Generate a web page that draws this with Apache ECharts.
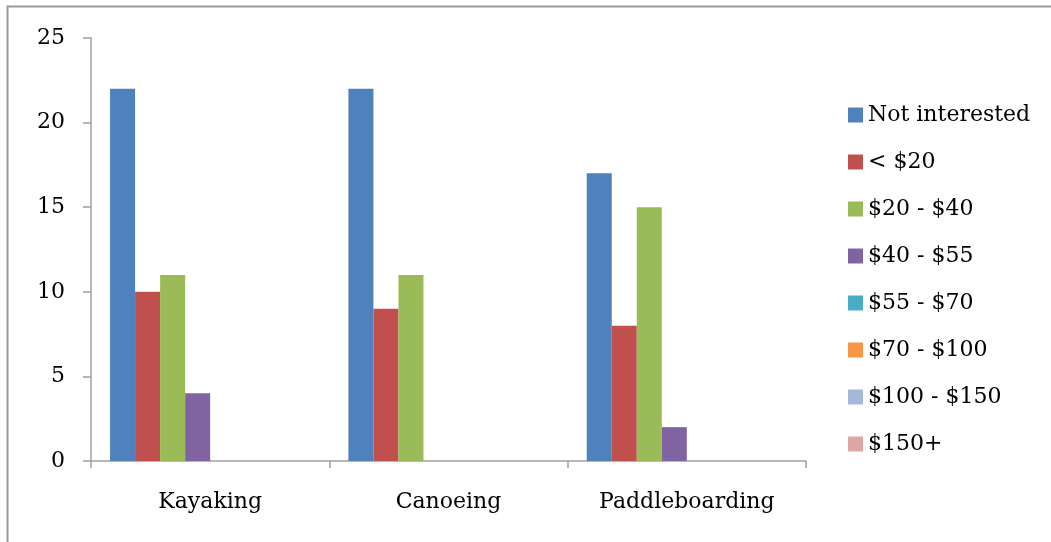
<!DOCTYPE html>
<html>
<head>
<meta charset="utf-8">
<style>
  html, body { margin: 0; padding: 0; background: #fff; }
  #chart { width: 1051px; height: 542px; }
</style>
<script src="https://cdn.jsdelivr.net/npm/echarts@6/dist/echarts.min.js"></script>
</head>
<body>
<div id="chart"></div>
<script>
// Willingness to pay, by activity
const categories = ['Kayaking', 'Canoeing', 'Paddleboarding'];
const seriesNames = ['Not interested', '< $20', '$20 - $40', '$40 - $55', '$55 - $70', '$70 - $100', '$100 - $150', '$150+'];
const notInterested = [22, 22, 17];
const under20 = [10, 9, 8];
const from20to40 = [11, 11, 15];
const from40to55 = [4, 0, 2];
const from55to70 = [0, 0, 0];
const from70to100 = [0, 0, 0];
const from100to150 = [0, 0, 0];
const over150 = [0, 0, 0];
const yTicks = [0, 5, 10, 15, 20, 25];

const seriesData = [notInterested, under20, from20to40, from40to55, from55to70, from70to100, from100to150, over150];
const colors = ['#4F81BD', '#C0504D', '#9BBB59', '#8064A2', '#4BACC6', '#F79646', '#A5B8DA', '#DBA6A5'];
const fontFamily = '"DejaVu Serif", "Liberation Serif", serif';
const axisGray = '#a0a0a0';

const chart = echarts.init(document.getElementById('chart'), null, { renderer: 'canvas' });

chart.setOption({
  animation: false,
  backgroundColor: '#fff',
  color: colors,
  textStyle: { fontFamily: fontFamily },
  graphic: [{
    type: 'rect',
    shape: { x: 7.5, y: 6.5, width: 1200, height: 700 },
    style: { fill: 'none', stroke: '#9a9a9a', lineWidth: 2 },
    silent: true
  }],
  grid: { left: 91, right: 245, top: 38, bottom: 81 },
  legend: {
    orient: 'vertical',
    left: 848,
    top: 104,
    padding: 0,
    itemWidth: 15,
    itemHeight: 15,
    itemGap: 25,
    icon: 'rect',
    textStyle: { fontSize: 22, lineHeight: 22, color: '#000', fontFamily: fontFamily },
    data: seriesNames
  },
  xAxis: {
    type: 'category',
    data: categories,
    axisLine: { lineStyle: { color: axisGray, width: 1.5 } },
    axisTick: { show: true, length: 7, inside: false, lineStyle: { color: axisGray, width: 1.5 } },
    axisLabel: { fontSize: 22, color: '#000', margin: 30, fontFamily: fontFamily },
    splitLine: { show: false }
  },
  yAxis: {
    type: 'value',
    min: yTicks[0],
    max: yTicks[yTicks.length - 1],
    interval: 5,
    axisLine: { show: true, lineStyle: { color: axisGray, width: 1.5 } },
    axisTick: { show: true, length: 8, lineStyle: { color: axisGray, width: 1.5 } },
    axisLabel: { fontSize: 22, color: '#000', margin: 26, fontFamily: fontFamily },
    splitLine: { show: false }
  },
  series: seriesNames.map((name, i) => ({
    name: name,
    type: 'bar',
    data: seriesData[i],
    barGap: '0%',
    barCategoryGap: '16%',
    itemStyle: { color: colors[i] }
  }))
});
</script>
</body>
</html>
